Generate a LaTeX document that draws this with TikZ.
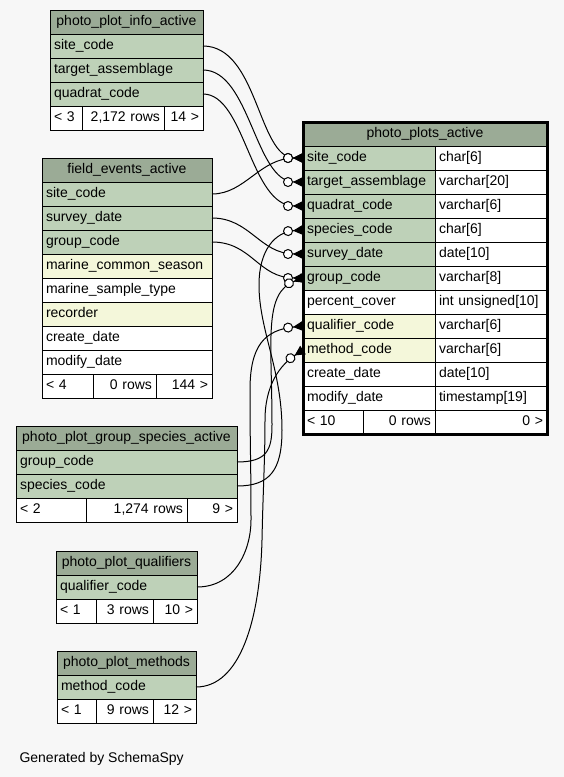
\documentclass[tikz,border=0pt]{standalone}
\usepackage{fontspec}
\setmainfont{Liberation Sans}
\usepackage{tikz}
\usetikzlibrary{arrows.meta,positioning}
\definecolor{sshead}{RGB}{155,171,150}
\definecolor{sskey}{RGB}{190,209,184}
\definecolor{ssidx}{RGB}{244,247,218}
\definecolor{ssbg}{RGB}{247,247,247}

\begin{document}
\begin{tikzpicture}[
  x=1pt, y=-1pt,
  font=\fontsize{14}{16}\selectfont,
  node distance=0pt,
  cell/.style={draw, line width=0.9pt, outer sep=0pt, minimum height=24pt,
               inner xsep=4pt, inner ysep=0pt, text height=10.5pt,
               text depth=3pt, align=left},
  headrow/.style={cell, fill=sshead, align=center, text width=#1},
  keyrow/.style={cell, fill=sskey, text width=#1},
  idxrow/.style={cell, fill=ssidx, text width=#1},
  plainrow/.style={cell, fill=white, text width=#1},
  footr/.style={cell, fill=white, align=right, text width=#1},
  fk/.style={line width=1pt,
             -{Circle[length=10pt, fill=white] Triangle[reversed, length=10pt, width=10pt]}}
]
\fill[ssbg] (0,0) rectangle (564,777);

% photo_plot_info_active
\node[headrow=145pt, anchor=north west] (info) at (50,10) {photo\_plot\_info\_active};
\node[keyrow=145pt, below=of info] (info-site) {site\_code};
\node[keyrow=145pt, below=of info-site] (info-target) {target\_assemblage};
\node[keyrow=145pt, below=of info-target] (info-quad) {quadrat\_code};
\node[plainrow=24pt, below right=0pt and 0pt of info-quad.south west] (info-f1) {< 3};
\node[footr=74pt, right=of info-f1] (info-f2) {2,172 rows};
\node[footr=31pt, right=of info-f2] (info-f3) {14 >};

% field_events_active
\node[headrow=162pt, anchor=north west] (events) at (42,158) {field\_events\_active};
\node[keyrow=162pt, below=of events] (events-site) {site\_code};
\node[keyrow=162pt, below=of events-site] (events-survey) {survey\_date};
\node[keyrow=162pt, below=of events-survey] (events-group) {group\_code};
\node[idxrow=162pt, below=of events-group] (events-season) {marine\_common\_season};
\node[plainrow=162pt, below=of events-season] (events-stype) {marine\_sample\_type};
\node[idxrow=162pt, below=of events-stype] (events-recorder) {recorder};
\node[plainrow=162pt, below=of events-recorder] (events-create) {create\_date};
\node[plainrow=162pt, below=of events-create] (events-modify) {modify\_date};
\node[plainrow=43pt, below right=0pt and 0pt of events-modify.south west] (events-f1) {< 4};
\node[footr=55pt, right=of events-f1] (events-f2) {0 rows};
\node[footr=48pt, right=of events-f2] (events-f3) {144 >};

% photo_plot_group_species_active
\node[headrow=213pt, anchor=north west] (groups) at (16,426) {photo\_plot\_group\_species\_active};
\node[keyrow=213pt, below=of groups] (groups-group) {group\_code};
\node[keyrow=213pt, below=of groups-group] (groups-species) {species\_code};
\node[plainrow=62pt, below right=0pt and 0pt of groups-species.south west] (groups-f1) {< 2};
\node[footr=93pt, right=of groups-f1] (groups-f2) {1,274 rows};
\node[footr=42pt, right=of groups-f2] (groups-f3) {9 >};

% photo_plot_qualifiers
\node[headrow=133pt, anchor=north west] (quals) at (56,551) {photo\_plot\_qualifiers};
\node[keyrow=133pt, below=of quals] (quals-code) {qualifier\_code};
\node[plainrow=32pt, below right=0pt and 0pt of quals-code.south west] (quals-f1) {< 1};
\node[footr=49pt, right=of quals-f1] (quals-f2) {3 rows};
\node[footr=36pt, right=of quals-f2] (quals-f3) {10 >};

% photo_plot_methods
\node[headrow=131pt, anchor=north west] (methods) at (57,651) {photo\_plot\_methods};
\node[keyrow=131pt, below=of methods] (methods-code) {method\_code};
\node[plainrow=31pt, below right=0pt and 0pt of methods-code.south west] (methods-f1) {< 1};
\node[footr=49pt, right=of methods-f1] (methods-f2) {9 rows};
\node[footr=35pt, right=of methods-f2] (methods-f3) {12 >};

% photo_plots_active
\node[headrow=236pt, anchor=north west] (plots) at (303,122) {photo\_plots\_active};
\foreach \nm/\ty/\cl [count=\i] in {site\_code/char[6]/sskey,
    target\_assemblage/varchar[20]/sskey, quadrat\_code/varchar[6]/sskey,
    species\_code/char[6]/sskey, survey\_date/date[10]/sskey,
    group\_code/varchar[8]/sskey, percent\_cover/int unsigned[10]/white,
    qualifier\_code/varchar[6]/ssidx, method\_code/varchar[6]/ssidx,
    create\_date/date[10]/white, modify\_date/timestamp[19]/white} {
  \node[cell, fill=\cl, text width=124pt, anchor=north west] (plots-\i) at (303,{122+24*\i}) {\nm};
  \node[plainrow=104pt, anchor=north west] (plots-t\i) at (plots-\i.north east) {\ty};
}
\node[plainrow=52pt, anchor=north west] (plots-f1) at (plots-11.south west) {< 10};
\node[footr=64pt, right=of plots-f1] (plots-f2) {0 rows};
\node[footr=104pt, right=of plots-f2] (plots-f3) {0 >};
\draw[line width=3pt] (plots.north west) rectangle (plots-f3.south east);

% foreign keys
\draw[fk] (info-site.east) .. controls +(55,0) and +(-45,0) .. (plots-1.west);
\draw[fk] (info-target.east) .. controls +(47,0) and +(-48,0) .. (plots-2.west);
\draw[fk] (info-quad.east) .. controls +(42,0) and +(-53,0) .. (plots-3.west);
\draw[fk] (events-site.east) .. controls +(33,0) and +(-43,0) .. (plots-1.west);
\draw[fk] (events-survey.east) .. controls +(38,0) and +(-43,0) .. (plots-5.west);
\draw[fk] (events-group.east) .. controls +(40,0) and +(-45,0) .. (plots-6.west);
\draw[fk] (groups-group.east) .. controls +(30,0) and +(0,25) .. (272,425)
  .. controls +(0,-85) and +(-40,15) .. (plots-6.west);
\draw[fk] (groups-species.east) .. controls +(33,0) and +(0,40) .. (282,430)
  .. controls +(0,-60) and +(0,45) .. (259,285)
  .. controls +(0,-35) and +(-28,2) .. (plots-4.west);
\draw[fk] (quals-code.east) .. controls +(38,0) and +(0,30) .. (251,520)
  .. controls +(0,-60) and +(0,60) .. (250,390)
  .. controls +(0,-45) and +(-38,4) .. (plots-8.west);
\draw[fk] (methods-code.east) .. controls +(44,0) and +(-2,80) .. (262,540)
  .. controls +(1,-50) and +(0,40) .. (265,420)
  .. controls +(0,-35) and +(-23,15) .. (plots-9.west);

\node[anchor=base west] (gen) at (16,762) {Generated by SchemaSpy};
\end{tikzpicture}
\end{document}
